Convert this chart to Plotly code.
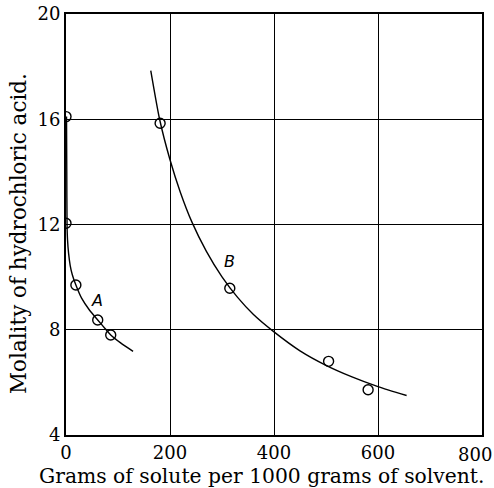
import plotly.graph_objects as go

# Observed points
a_x = [0, 0, 19, 61, 86]
a_y = [16.1, 12.05, 9.7, 8.37, 7.8]
b_x = [181, 315, 505, 581]
b_y = [15.85, 9.58, 6.8, 5.72]

# Fitted curves
ca_x = [1, 1.5, 2, 3, 5, 8, 12, 19, 30, 45, 61, 75, 86, 105, 129]
ca_y = [16.1, 14.0, 12.0, 11.4, 10.9, 10.45, 10.1, 9.7, 9.2, 8.75, 8.37, 8.05, 7.8, 7.5, 7.18]
cb_x = [163, 180, 200, 220, 242, 270, 300, 330, 360, 400, 450, 500, 550, 600, 655]
cb_y = [17.85, 16.0, 14.46, 13.22, 12.1, 10.98, 10.01, 9.23, 8.59, 7.92, 7.2, 6.65, 6.21, 5.84, 5.5]

x_ticks = [0, 200, 400, 600, 800]
x_tick_text = ["0", "200", "400", "600", ""]
y_ticks = [4, 8, 12, 16, 20]

x_title = "Grams of solute per 1000 grams of solvent."
y_title = "Molality of hydrochloric acid."

serif = "DejaVu Serif"

fig = go.Figure()
line = dict(color="black", width=1.4, shape="spline", smoothing=0.6)
fig.add_trace(go.Scatter(x=ca_x, y=ca_y, mode="lines", line=line, hoverinfo="skip"))
fig.add_trace(go.Scatter(x=cb_x, y=cb_y, mode="lines", line=line, hoverinfo="skip"))
mk = dict(symbol="circle-open", size=10, color="black", line=dict(width=1.4, color="black"))
fig.add_trace(go.Scatter(x=a_x, y=a_y, mode="markers", marker=mk))
fig.add_trace(go.Scatter(x=b_x, y=b_y, mode="markers", marker=mk))

fig.add_annotation(x=59, y=9.1, text="<i>A</i>", showarrow=False,
                   font=dict(family="DejaVu Sans", size=16, color="black"))
fig.add_annotation(x=315, y=10.6, text="<i>B</i>", showarrow=False,
                   font=dict(family="DejaVu Sans", size=16, color="black"))
# last x tick label sits slightly inside the frame in the original
fig.add_annotation(x=x_ticks[-1], y=0, xref="x", yref="paper", text=str(x_ticks[-1]),
                   showarrow=False, xanchor="center", yanchor="top", xshift=-7, yshift=-7,
                   font=dict(family=serif, size=18, color="black"))
# axis titles (placed as in the original, slightly off-centre)
fig.add_annotation(x=0.471, y=0, xref="paper", yref="paper", text=x_title,
                   showarrow=False, xanchor="center", yanchor="middle", yshift=-41,
                   borderpad=0, font=dict(family=serif, size=20.3, color="black"))
fig.add_annotation(x=-0.113, y=0.48, xref="paper", yref="paper", text=y_title,
                   showarrow=False, xanchor="center", yanchor="middle", textangle=-90,
                   borderpad=0, font=dict(family=serif, size=21.5, color="black"))

fig.update_layout(
    width=494, height=488,
    margin=dict(l=66, r=12, t=14, b=53, autoexpand=False),
    paper_bgcolor="white", plot_bgcolor="white",
    showlegend=False,
    font=dict(family=serif, color="black"),
    xaxis=dict(range=[0, 800], tickvals=x_ticks, ticktext=x_tick_text, showgrid=True,
               gridcolor="black", automargin=False,
               gridwidth=1.4, showline=True, mirror=True, linecolor="black", linewidth=2,
               zeroline=False, ticks="", tickfont=dict(family=serif, size=18)),
    yaxis=dict(range=[4, 20], tickvals=y_ticks, showgrid=True, gridcolor="black",
               automargin=False,
               gridwidth=1.4, showline=True, mirror=True, linecolor="black", linewidth=2,
               zeroline=False, ticks="", tickfont=dict(family=serif, size=18)),
)
fig.write_html("out.html", config={"displayModeBar": False},
               post_script="document.body.style.margin='0';")
